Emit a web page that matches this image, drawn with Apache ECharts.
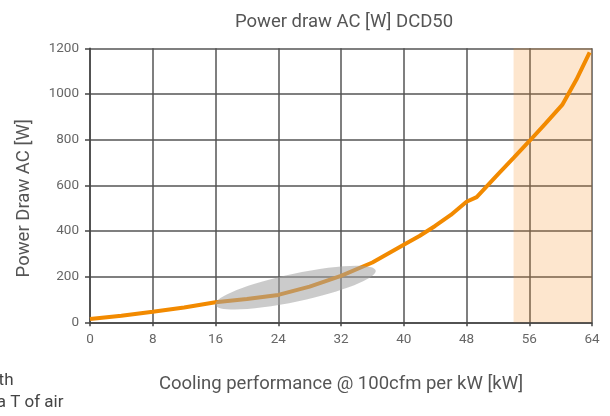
<!DOCTYPE html>
<html>
<head>
<meta charset="utf-8">
<script src="https://cdn.jsdelivr.net/npm/echarts@6/dist/echarts.min.js"></script>
<style>html,body{margin:0;padding:0;background:#fff;}#c{width:610px;height:416px;}</style>
</head>
<body>
<div id="c"></div>
<script>
var titleText = 'Power draw AC [W] DCD50';
var xName = 'Cooling performance @ 100cfm per kW [kW]';
var yName = 'Power Draw AC [W]';
var coolingKW = [0, 4, 8, 12, 16, 20, 24, 28, 32, 36, 40, 42, 44, 46, 48, 49.3, 52, 54, 56, 58, 60.2, 62, 63.7];
var powerW =    [14, 29, 46, 65, 88, 102, 120, 156, 203, 262, 340, 378, 422, 470, 528, 548, 648, 720, 793, 868, 952, 1062, 1182];
var bandRange = [54, 64];
var ellipseCenter = [26.2, 152];
var noteLines = ['Measured with', '10K delta T of air'];

var FONT = 'Roboto, "Noto Sans", sans-serif';
var chart = echarts.init(document.getElementById('c'), null, {renderer: 'canvas'});
var data = coolingKW.map(function (x, i) { return [x, powerW[i]]; });
var plain = function (v) { return String(v); };

chart.setOption({
  animation: false,
  textStyle: {fontFamily: FONT},
  title: {
    text: titleText, left: 339, top: 8, textAlign: 'center',
    textStyle: {fontSize: 18.5, fontWeight: 'normal', color: '#555', fontFamily: FONT}
  },
  grid: {left: 90, right: 18, top: 48.3, bottom: 93.7},
  xAxis: {
    type: 'value', min: 0, max: 64, interval: 8,
    name: xName, nameLocation: 'middle', nameGap: 53,
    nameTextStyle: {fontSize: 18.5, color: '#555', fontFamily: FONT},
    axisLine: {show: true, lineStyle: {color: '#444', width: 1.5}},
    axisTick: {show: true, length: 4, lineStyle: {color: '#444', width: 1.5}},
    axisLabel: {fontSize: 13.5, color: '#666', margin: 10, fontFamily: FONT, formatter: plain},
    splitLine: {show: true, lineStyle: {color: '#555', width: 1.5}}
  },
  yAxis: {
    type: 'value', min: 0, max: 1200, interval: 200,
    name: yName, nameLocation: 'middle', nameGap: 56, nameRotate: 90,
    nameTextStyle: {fontSize: 18.5, color: '#555', fontFamily: FONT, padding: [0, 26, 0, 0]},
    axisLine: {show: true, lineStyle: {color: '#444', width: 1.5}},
    axisTick: {show: true, length: 5, lineStyle: {color: '#444', width: 1.5}},
    axisLabel: {fontSize: 13.5, color: '#666', margin: 11, fontFamily: FONT, formatter: plain},
    splitLine: {show: true, lineStyle: {color: '#555', width: 1.5}}
  },
  series: [{
    type: 'line', data: data, smooth: false, showSymbol: false, symbol: 'none',
    lineStyle: {color: '#F28A00', width: 4},
    markArea: {
      silent: true,
      itemStyle: {color: 'rgba(245,140,30,0.22)'},
      data: [[{xAxis: bandRange[0]}, {xAxis: bandRange[1]}]]
    }
  }]
});

var c = chart.convertToPixel({gridIndex: 0}, ellipseCenter);
chart.setOption({
  graphic: [
    {type: 'ellipse', z: 100, x: c[0], y: c[1], rotation: 12 * Math.PI / 180,
     shape: {cx: 0, cy: 0, rx: 82, ry: 14},
     style: {fill: 'rgba(160,160,160,0.55)'}},
    {type: 'text', z: 100, x: 13.5, y: 381, style: {text: noteLines[0], align: 'right', verticalAlign: 'middle', font: '17px ' + FONT, fill: '#444'}},
    {type: 'text', z: 100, x: 63.5, y: 403, style: {text: noteLines[1], align: 'right', verticalAlign: 'middle', font: '17px ' + FONT, fill: '#444'}}
  ]
});
</script>
</body>
</html>
